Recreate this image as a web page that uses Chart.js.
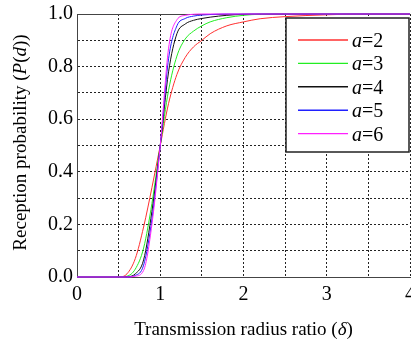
<!DOCTYPE html>
<html>
<head>
<meta charset="utf-8">
<title>Reception probability</title>
<script src="https://cdn.jsdelivr.net/npm/chart.js@4.4.1/dist/chart.umd.min.js"></script>
<style>
  html, body { margin: 0; padding: 0; background: #fff; overflow: hidden; }
  #wrap { position: absolute; left: 0; top: 0; width: 411px; height: 341px; }
</style>
</head>
<body>
<div id="wrap"><canvas id="probChart" width="411" height="341"></canvas></div>
<script>
// transmission radius ratio (delta) sample points
const deltas = [0, 0.5, 0.6, 0.7, 0.8, 0.9, 1.0, 1.1, 1.2, 1.3, 1.4, 1.5, 1.6, 1.8, 2.0, 2.2, 2.5, 3.0, 3.5, 4.0];

// reception probability P(d) for each path loss exponent a
const pA2 = [0, 0, 0.012, 0.07, 0.19, 0.34, 0.50, 0.66, 0.77, 0.835, 0.875, 0.90, 0.925, 0.955, 0.97, 0.982, 0.99, 0.997, 1.0, 1.0];
const pA3 = [0, 0, 0.003, 0.03, 0.11, 0.28, 0.50, 0.71, 0.84, 0.905, 0.935, 0.955, 0.97, 0.986, 0.995, 0.999, 1.0, 1.0, 1.0, 1.0];
const pA4 = [0, 0, 0.001, 0.012, 0.065, 0.25, 0.50, 0.78, 0.925, 0.962, 0.976, 0.983, 0.988, 0.995, 0.999, 1.0, 1.0, 1.0, 1.0, 1.0];
const pA5 = [0, 0, 0, 0.006, 0.045, 0.22, 0.50, 0.83, 0.955, 0.983, 0.992, 0.996, 0.998, 1.0, 1.0, 1.0, 1.0, 1.0, 1.0, 1.0];
const pA6 = [0, 0, 0, 0.003, 0.025, 0.20, 0.50, 0.87, 0.978, 0.995, 0.999, 1.0, 1.0, 1.0, 1.0, 1.0, 1.0, 1.0, 1.0, 1.0];

const exponents = [2, 3, 4, 5, 6];
const seriesValues = [pA2, pA3, pA4, pA5, pA6];
const seriesColors = ['#ff3030', '#22ee22', '#111111', '#2020ff', '#ff20ff'];

const xTicks = [0, 1, 2, 3, 4];
const yTicks = [0.0, 0.2, 0.4, 0.6, 0.8, 1.0];

const SERIF = "'Liberation Serif', 'Times New Roman', serif";

document.addEventListener('DOMContentLoaded', () => {
  initProbChart();
});

// draws a centred line of text made of plain and italic runs
function drawRuns(ctx, runs, size) {
  let total = 0;
  runs.forEach(r => {
    ctx.font = (r.italic ? 'italic ' : '') + size + 'px ' + SERIF;
    r.w = ctx.measureText(r.text).width;
    total += r.w;
  });
  let x = -total / 2;
  runs.forEach(r => {
    ctx.font = (r.italic ? 'italic ' : '') + size + 'px ' + SERIF;
    ctx.fillText(r.text, x, 0);
    x += r.w;
  });
}

const decorPlugin = {
  id: 'decor',
  beforeDatasetsDraw(chart) {
    const { ctx, chartArea: a } = chart;
    ctx.save();
    ctx.strokeStyle = '#444';
    ctx.lineWidth = 1;
    ctx.beginPath();
    ctx.moveTo(a.left + 0.5, a.bottom + 0.5);
    ctx.lineTo(a.left + 0.5, a.top + 0.5);
    ctx.lineTo(a.right + 0.5, a.top + 0.5);
    ctx.stroke();
    ctx.restore();
  },
  afterDatasetsDraw(chart) {
    const { ctx, chartArea: a } = chart;
    ctx.save();
    ctx.fillStyle = '#000';
    ctx.textBaseline = 'alphabetic';

    // x axis title
    ctx.save();
    ctx.translate((a.left + a.right) / 2, 335);
    drawRuns(ctx, [{ text: 'Transmission radius ratio (' }, { text: 'δ', italic: true }, { text: ')' }], 19);
    ctx.restore();

    // y axis title
    ctx.save();
    ctx.translate(26, (a.top + a.bottom) / 2 - 3);
    ctx.rotate(-Math.PI / 2);
    drawRuns(ctx, [{ text: 'Reception probability (' }, { text: 'P', italic: true }, { text: '(' },
      { text: 'd', italic: true }, { text: '))' }], 19);
    ctx.restore();

    // legend box
    const bx = a.right - 124, by = a.top + 4, bw = 123, bh = 134;
    ctx.fillStyle = '#fff';
    ctx.fillRect(bx, by, bw, bh);
    ctx.strokeStyle = '#222';
    ctx.lineWidth = 1.5;
    ctx.strokeRect(bx, by, bw, bh);
    chart.data.datasets.forEach((ds, i) => {
      const rowY = by + 22 + i * 23.4;
      ctx.strokeStyle = ds.borderColor;
      ctx.lineWidth = 1.4;
      ctx.beginPath();
      ctx.moveTo(bx + 12, rowY);
      ctx.lineTo(bx + 62, rowY);
      ctx.stroke();
      ctx.fillStyle = '#000';
      ctx.font = 'italic 20px ' + SERIF;
      ctx.fillText('a', bx + 66, rowY + 7);
      const aw = ctx.measureText('a').width;
      ctx.font = '20px ' + SERIF;
      ctx.fillText('=' + exponents[i], bx + 66 + aw, rowY + 7);
    });
    ctx.restore();
  }
};

function initProbChart() {
  const ctx = document.getElementById('probChart').getContext('2d');

  const datasets = seriesValues.map((vals, i) => ({
    label: 'a=' + exponents[i],
    data: deltas.map((d, j) => ({ x: d, y: vals[j] })),
    borderColor: seriesColors[i],
    backgroundColor: seriesColors[i],
    borderWidth: 1,
    pointRadius: 0,
    cubicInterpolationMode: 'monotone',
    fill: false,
    clip: false,
    order: exponents.length - 1 - i
  }));

  new Chart(ctx, {
    type: 'line',
    data: { datasets: datasets },
    options: {
      responsive: false,
      animation: false,
      layout: { padding: { left: 0, right: 1, top: 14, bottom: 0 } },
      plugins: {
        legend: { display: false },
        tooltip: { enabled: false }
      },
      scales: {
        x: {
          type: 'linear',
          min: 0,
          max: 4,
          afterFit(scale) {
            scale.height = 64;
            scale.paddingLeft = 0;
            scale.paddingRight = 0;
          },
          ticks: {
            stepSize: 0.5,
            autoSkip: false,
            maxRotation: 0,
            padding: 6,
            color: '#000',
            font: { family: SERIF, size: 20 },
            callback: v => (xTicks.includes(v) ? String(v) : '')
          },
          grid: { color: '#222', lineWidth: 1, drawTicks: false },
          border: { display: true, color: '#444', width: 1, dash: [2, 2] }
        },
        y: {
          type: 'linear',
          min: 0,
          max: 1,
          afterFit(scale) {
            scale.width = 77;
            scale.paddingTop = 0;
            scale.paddingBottom = 0;
          },
          ticks: {
            stepSize: 0.1,
            autoSkip: false,
            padding: 4,
            color: '#000',
            font: { family: SERIF, size: 20 },
            callback: v => {
              const r = Math.round(v * 10) / 10;
              return yTicks.some(t => Math.abs(t - r) < 1e-9) ? r.toFixed(1) : '';
            }
          },
          grid: { color: '#222', lineWidth: 1, drawTicks: false },
          border: { display: true, color: '#444', width: 1, dash: [2, 2] }
        }
      }
    },
    plugins: [decorPlugin]
  });
}
</script>
</body>
</html>
